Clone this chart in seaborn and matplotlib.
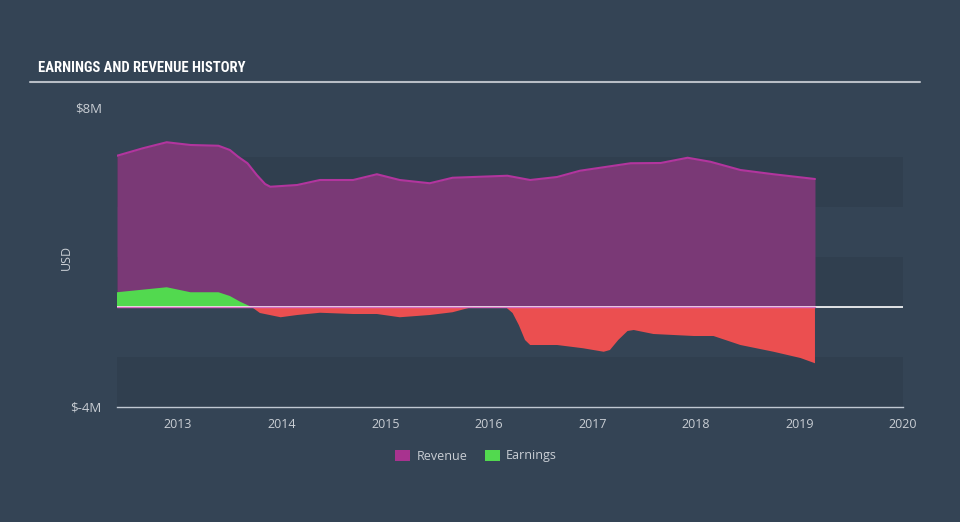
import numpy as np
import pandas as pd
import matplotlib
matplotlib.use("Agg")
import matplotlib.pyplot as plt
import seaborn as sns
from matplotlib.patches import Patch
from matplotlib import font_manager

# ---- data ----
rev_years = [2012.41, 2012.66, 2012.89, 2013.12, 2013.39, 2013.50, 2013.58, 2013.67,
             2013.76, 2013.84, 2013.89, 2014.15, 2014.37, 2014.69, 2014.92, 2015.14,
             2015.43, 2015.65, 2016.18, 2016.40, 2016.66, 2016.88, 2017.37, 2017.66,
             2017.92, 2018.14, 2018.43, 2018.75, 2019.15]
revenue = [6.05, 6.35, 6.59, 6.48, 6.45, 6.28, 6.01, 5.75,
           5.28, 4.92, 4.81, 4.88, 5.08, 5.08, 5.31, 5.08,
           4.95, 5.17, 5.25, 5.08, 5.20, 5.45, 5.75, 5.76,
           5.97, 5.81, 5.48, 5.31, 5.12]

earn_years = [2012.41, 2012.89, 2013.12, 2013.39, 2013.50, 2013.60, 2013.71, 2013.79,
              2013.99, 2014.15, 2014.37, 2014.69, 2014.92, 2015.14, 2015.43, 2015.65,
              2015.85, 2016.16, 2016.23, 2016.29, 2016.35, 2016.40, 2016.66, 2016.91,
              2017.11, 2017.17, 2017.25, 2017.34, 2017.40, 2017.59, 2017.98, 2018.17,
              2018.43, 2018.75, 2019.01, 2019.15]
earnings = [0.59, 0.79, 0.59, 0.59, 0.44, 0.21, 0.00, -0.24,
            -0.41, -0.32, -0.23, -0.28, -0.28, -0.41, -0.32, -0.21,
            0.01, 0.01, -0.24, -0.72, -1.32, -1.52, -1.52, -1.65,
            -1.79, -1.72, -1.32, -0.96, -0.92, -1.08, -1.16, -1.16,
            -1.52, -1.79, -2.04, -2.25]

year_ticks = [2013, 2014, 2015, 2016, 2017, 2018, 2019, 2020]
y_ticks = [-4, 8]
y_tick_labels = ["$-4M", "$8M"]

BG = "#344455"
BAND = "#303f4f"
PURPLE = "#7a3976"
PURPLE_EDGE = "#b2359e"
GREEN = "#52d94f"
RED = "#eb4f50"
TXT = "#c9ced4"

sns.set_theme(style="white")
plt.rcParams["font.family"] = ["Open Sans", "DejaVu Sans"]

names = {f.name for f in font_manager.fontManager.ttflist}
cond = [n for n in ["Roboto Condensed", "Open Sans Condensed", "Liberation Sans Narrow",
                    "DejaVu Sans Condensed"] if n in names]
title_family = cond[0] if cond else "Roboto"

fig = plt.figure(figsize=(9.6, 5.22), dpi=100, facecolor=BG)
ax = fig.add_axes([117 / 960, 115 / 522, 786 / 960, 300 / 522])
ax.set_facecolor(BG)

ax.set_xlim(2012.41, 2020.0)
ax.set_ylim(-4, 8)

for lo, hi in [(4, 6), (0, 2), (-4, -2)]:
    ax.axhspan(lo, hi, color=BAND, zorder=0, lw=0)

df_rev = pd.DataFrame({"year": rev_years, "value": revenue})

ax.fill_between(df_rev["year"], 0, df_rev["value"], color=PURPLE, lw=0, zorder=2)
sns.lineplot(data=df_rev, x="year", y="value", ax=ax, color=PURPLE_EDGE, lw=1.5, zorder=3)

ey = np.array(earn_years)
ev = np.array(earnings)
ax.fill_between(ey, 0, ev, where=ev >= 0, interpolate=True, color=GREEN, lw=0, zorder=4)
ax.fill_between(ey, 0, ev, where=ev <= 0, interpolate=True, color=RED, lw=0, zorder=4)

ax.axhline(0, color="white", lw=1.2, zorder=5)
ax.plot([rev_years[0], rev_years[-1]], [0, 0], color="#d86ac0", lw=1.0, zorder=6)

for s in ["top", "right", "left"]:
    ax.spines[s].set_visible(False)
ax.spines["bottom"].set_color("#c0c8d2")
ax.spines["bottom"].set_linewidth(1.0)

ax.set_xticks(year_ticks)
ax.set_xticklabels([str(y) for y in year_ticks])
ax.tick_params(axis="x", colors=TXT, labelsize=9, length=7, width=1, direction="out", pad=1)
ax.tick_params(axis="x", color="#c0c8d2")
ax.set_yticks(y_ticks)
ax.set_yticklabels(y_tick_labels)
ax.tick_params(axis="y", colors=TXT, labelsize=9.5, length=0, pad=11)
ax.set_xlabel("")
ax.set_ylabel("USD", color=TXT, fontsize=9)
ax.yaxis.set_label_coords((73 - 117) / 786, 0.5)

fig.text(38 / 960, 1 - 68 / 522, "EARNINGS AND REVENUE HISTORY", color="white",
         fontsize=10.5, fontweight="bold", fontstretch="condensed",
         family=[title_family, "DejaVu Sans"], va="center", ha="left")
fig.add_artist(plt.Line2D([30 / 960, 920 / 960], [1 - 82 / 522, 1 - 82 / 522],
                          color="#b8bec6", lw=1.5, transform=fig.transFigure))

handles = [Patch(facecolor="#a8338f", edgecolor="none", label="Revenue"),
           Patch(facecolor=GREEN, edgecolor="none", label="Earnings")]
leg = fig.legend(handles=handles, loc="center", bbox_to_anchor=(476 / 960, 1 - 456 / 522),
                 ncol=2, frameon=False, fontsize=9, handlelength=1.2, handleheight=1.0,
                 handletextpad=0.5, columnspacing=1.4)
for t in leg.get_texts():
    t.set_color(TXT)

if ax.get_legend():
    ax.get_legend().remove()

fig.savefig("out.png", dpi=100, facecolor=BG)
